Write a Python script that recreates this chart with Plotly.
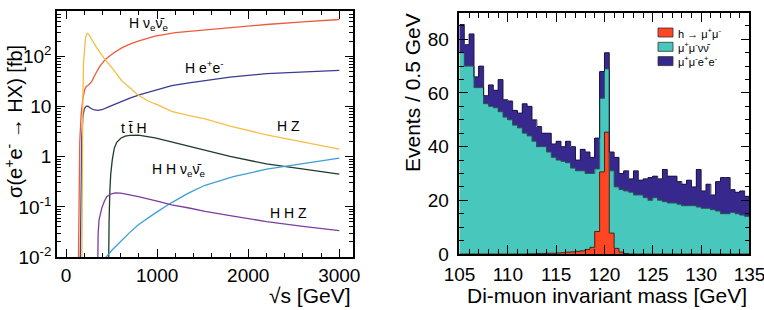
import numpy as np
import plotly.graph_objects as go

FONT = "Liberation Sans, Arial, sans-serif"

# ---------------- Left panel: cross sections vs sqrt(s) ----------------
hvv_sqrt_s = [130, 134, 140, 150, 165, 185, 205, 220, 250, 282, 319, 370, 428, 520, 611, 700, 800,
              977, 1200, 1500, 1800, 2200, 2600, 3000]
hvv_xsec = [0.001, 0.01, 0.3, 2, 7, 15, 22, 25, 27.5, 32, 44, 64, 87, 118, 149, 178, 205,
            256, 300, 336, 380, 437, 495, 550]

hee_sqrt_s = [150, 155, 162, 172, 185, 200, 220, 240, 270, 310, 355, 400, 460, 540, 611, 700, 812,
              1000, 1160, 1350, 1526, 1800, 2200, 2600, 3000]
hee_xsec = [0.001, 0.01, 0.3, 2.5, 6.5, 9, 10.1, 10.2, 9.3, 8.6, 8.45, 8.8, 9.8, 11.3, 12.8, 14.8, 17.4,
            21.5, 26.3, 30, 33.6, 39, 45.7, 50, 53.3]

hz_sqrt_s = [170, 174, 178, 184, 192, 202, 214, 226, 236, 250, 282, 337, 428, 520, 611, 700, 794,
             900, 1000, 1160, 1350, 1526, 1800, 2200, 2600, 3000]
hz_xsec = [0.001, 0.05, 1, 15, 80, 170, 240, 280, 290, 275, 219, 149, 87, 55, 33, 23.5, 17,
           13, 11, 8.1, 6.6, 5.7, 4.1, 2.75, 1.95, 1.42]

tth_sqrt_s = [462, 466, 472, 480, 490, 508, 530, 556, 600, 648, 700, 794, 900, 977, 1100, 1200,
              1343, 1500, 1800, 2200, 2600, 3000]
tth_xsec = [0.001, 0.01, 0.05, 0.2, 0.45, 0.9, 1.5, 1.95, 2.35, 2.58, 2.68, 2.7, 2.55, 2.38, 2.1, 1.9,
            1.66, 1.38, 1.02, 0.72, 0.57, 0.45]

hhvv_sqrt_s = [400, 430, 500, 611, 700, 794, 900, 977, 1160, 1343, 1526, 1837, 2203, 2569, 3000]
hhvv_xsec = [0.0075, 0.0095, 0.0135, 0.022, 0.031, 0.044, 0.06, 0.075, 0.122, 0.188, 0.27, 0.40,
             0.567, 0.724, 0.94]

hhz_sqrt_s = [342, 346, 352, 362, 375, 392, 420, 446, 490, 538, 600, 700, 794, 1000, 1160, 1350,
              1526, 1800, 2200, 2600, 3000]
hhz_xsec = [0.001, 0.01, 0.03, 0.055, 0.075, 0.095, 0.13, 0.16, 0.18, 0.19, 0.188, 0.175, 0.161,
            0.13, 0.11, 0.095, 0.081, 0.067, 0.051, 0.041, 0.0336]

curve_labels = ["H ν<sub>e</sub>ν̄<sub>e</sub>", "H e<sup>+</sup>e<sup>-</sup>", "H Z",
                "t t̄ H", "H H ν<sub>e</sub>ν̄<sub>e</sub>", "H H Z"]
curve_colors = ["#EE5A3C", "#3B3B92", "#F6BE45", "#1F3B2C", "#3C9FD6", "#7B3FA0"]
label_sqrt_s = [900, 1515, 2442, 741, 1235, 2442]
label_log_xsec = [2.66, 1.79, 0.61, 0.58, -0.26, -1.12]

# ---------------- Right panel: di-muon invariant mass ----------------
mass_bin_low = np.arange(105.0, 135.0, 0.5)
h_mumu = [0, 0, 0, 0, 0, 0, 0, 0, 0, 0,
          0, 0, 0, 0, 0.1, 0.1, 0.2, 0.2, 0.3, 0.3,
          0.4, 0.5, 0.7, 0.8, 1.0, 1.2, 1.7, 2.5, 8.4, 30.6,
          45.4, 7.8, 2.1, 0.7, 0.2, 0, 0, 0, 0, 0,
          0, 0, 0, 0, 0, 0, 0, 0, 0, 0,
          0, 0, 0, 0, 0, 0, 0, 0, 0, 0]
mumu_nunu = [75, 70, 70, 62, 62, 56, 55, 54.5, 53, 51,
             50, 48, 47, 45, 43.9, 41.9, 39.8, 39.8, 37.7, 35.7,
             34.6, 34.0, 33.3, 31.2, 30.0, 29.8, 28.3, 27.5, 23.3, 27.4,
             23.6, 23.2, 22.9, 23.3, 23.3, 23, 22, 22, 21, 20,
             21, 20, 19.5, 19, 19, 18.5, 18, 18, 18, 17.5,
             17, 17, 16.5, 16, 15, 15, 15.5, 15, 14.5, 14]
mumu_ee = [10.5, 8, 12, 4, 8, 3, 8, 6.5, 12, 6.5,
           7, 5.5, 5.5, 11, 11, 8, 7.5, 5, 7, 5,
           7, 5.5, 8, 8, 4, 8, 8, 6, 11.5, 10,
           6, 7, 11, 6, 7.5, 5, 9, 5.5, 7, 8.5,
           8, 8, 12, 10, 10, 8.5, 8, 9.5, 7, 14,
           6.5, 9, 5.5, 11, 13.5, 13.5, 8.5, 8, 9, 7.5]
hist_names = ["h → μ<sup>+</sup>μ<sup>-</sup>", "μ<sup>+</sup>μ<sup>-</sup>νν̄",
              "μ<sup>+</sup>μ<sup>-</sup>e<sup>+</sup>e<sup>-</sup>"]
hist_colors = ["#FF4522", "#48C8BD", "#37288E"]

BIN_W = 0.5

fig = go.Figure()

curves = [(hvv_sqrt_s, hvv_xsec), (hee_sqrt_s, hee_xsec), (hz_sqrt_s, hz_xsec),
          (tth_sqrt_s, tth_xsec), (hhvv_sqrt_s, hhvv_xsec), (hhz_sqrt_s, hhz_xsec)]
for (xs, ys), col in zip(curves, curve_colors):
    fig.add_trace(go.Scatter(x=xs, y=ys, mode="lines", line=dict(color=col, width=1.3),
                             xaxis="x", yaxis="y", showlegend=False, hoverinfo="skip"))

centers = mass_bin_low + BIN_W / 2
for vals, col in zip([h_mumu, mumu_nunu, mumu_ee], hist_colors):
    fig.add_trace(go.Bar(x=centers, y=vals, width=BIN_W, marker=dict(color=col, line=dict(width=0)),
                         xaxis="x2", yaxis="y2", showlegend=False, hoverinfo="skip"))

# step outlines of the stacked histograms
edges = list(mass_bin_low) + [mass_bin_low[-1] + BIN_W]
cum = np.zeros(len(mass_bin_low))
outline_cols = ["#3a2a22", "#2d5a54", "#1c1640"]
for vals, oc in zip([h_mumu, mumu_nunu, mumu_ee], outline_cols):
    cum = cum + np.array(vals, dtype=float)
    ystep = list(cum) + [cum[-1]]
    fig.add_trace(go.Scatter(x=edges, y=ystep, mode="lines", line=dict(color=oc, width=1, shape="hv"),
                             xaxis="x2", yaxis="y2", showlegend=False, hoverinfo="skip"))

tickfont = dict(family=FONT, size=19, color="black")
axis_common = dict(showline=True, linecolor="black", linewidth=1.5, mirror="ticks",
                   ticks="inside", tickcolor="black", tickwidth=1.2, showgrid=False,
                   zeroline=False, tickfont=tickfont, automargin=False,
                   ticklabeloverflow="allow")

log_minor = [m * 10.0 ** e for e in range(-2, 3) for m in range(2, 10)]

fig.update_layout(
    width=764, height=310, margin=dict(l=0, r=0, t=0, b=0),
    paper_bgcolor="white", plot_bgcolor="white",
    barmode="stack", bargap=0, showlegend=False,
    xaxis=dict(domain=[0.0746, 0.462], range=[-100, 3150], anchor="y",
               tickvals=[0, 1000, 2000, 3000], ticklen=8,
               minor=dict(tickvals=list(range(0, 3200, 200)), ticklen=4, ticks="inside",
                          tickcolor="black", tickwidth=1, showgrid=False),
               **axis_common),
    yaxis=dict(domain=[0.171, 0.9645], type="log", range=[-2, 2.91], anchor="x",
               tickvals=[0.01, 0.1, 1, 10, 100],
               ticktext=["10<sup>-2</sup>", "10<sup>-1</sup>", "1", "10", "10<sup>2</sup>"],
               ticklen=8,
               minor=dict(tickvals=log_minor, ticklen=4, ticks="inside",
                          tickcolor="black", tickwidth=1, showgrid=False),
               **axis_common),
    xaxis2=dict(domain=[0.6014, 0.981], range=[105, 135], anchor="y2",
                tickvals=[105, 110, 115, 120, 125, 130, 135], ticklen=9,
                minor=dict(dtick=1, ticklen=5, ticks="inside", tickcolor="black",
                           tickwidth=1, showgrid=False),
                ticklabelstandoff=2,
                **axis_common),
    yaxis2=dict(domain=[0.1806, 0.9581], range=[0, 89.8], anchor="x2",
                tickvals=[0, 20, 40, 60, 80], ticklen=9,
                minor=dict(dtick=5, ticklen=5, ticks="inside", tickcolor="black",
                           tickwidth=1, showgrid=False),
                ticklabelstandoff=5,
                **axis_common),
)

annotations = []
for txt, sx, ly in zip(curve_labels, label_sqrt_s, label_log_xsec):
    annotations.append(dict(x=sx, y=ly, xref="x", yref="y", text=txt, showarrow=False,
                            font=dict(family=FONT, size=14, color="black"),
                            xanchor="center", yanchor="middle"))

title_font = dict(family=FONT, size=21, color="black")
annotations += [
    dict(x=0.0175, y=0.608, xref="paper", yref="paper", text="σ(e<sup>+</sup>e<sup>-</sup> → HX) [fb]",
         textangle=-90, showarrow=False, font=dict(family=FONT, size=20, color="black"),
         xanchor="center", yanchor="middle"),
    dict(x=0.462, y=0.0468, xref="paper", yref="paper", text="√s [GeV]",
         showarrow=False, font=title_font, xanchor="right", yanchor="middle"),
    dict(x=0.5393, y=0.70, xref="paper", yref="paper", text="Events / 0.5 GeV",
         textangle=-90, showarrow=False, font=title_font, xanchor="center", yanchor="middle"),
    dict(x=0.981, y=0.0468, xref="paper", yref="paper", text="Di-muon invariant mass [GeV]",
         showarrow=False, font=title_font, xanchor="right", yanchor="middle"),
]

# legend (drawn as shapes + text in the right panel)
shapes = []
leg_rows_y = [32.5, 46.8, 61.1]
for name, col, yc in zip(hist_names, hist_colors, leg_rows_y):
    shapes.append(dict(type="rect", xref="paper", yref="paper",
                       x0=658 / 764, x1=673 / 764, y0=1 - (yc + 4.5) / 310, y1=1 - (yc - 4.5) / 310,
                       fillcolor=col, line=dict(color="#333333", width=0.8)))
    annotations.append(dict(x=676 / 764, y=1 - yc / 310, xref="paper", yref="paper", text=name,
                            showarrow=False, font=dict(family=FONT, size=11, color="black"),
                            xanchor="left", yanchor="middle"))

fig.update_layout(annotations=annotations, shapes=shapes)

fig.write_html("out.html")
